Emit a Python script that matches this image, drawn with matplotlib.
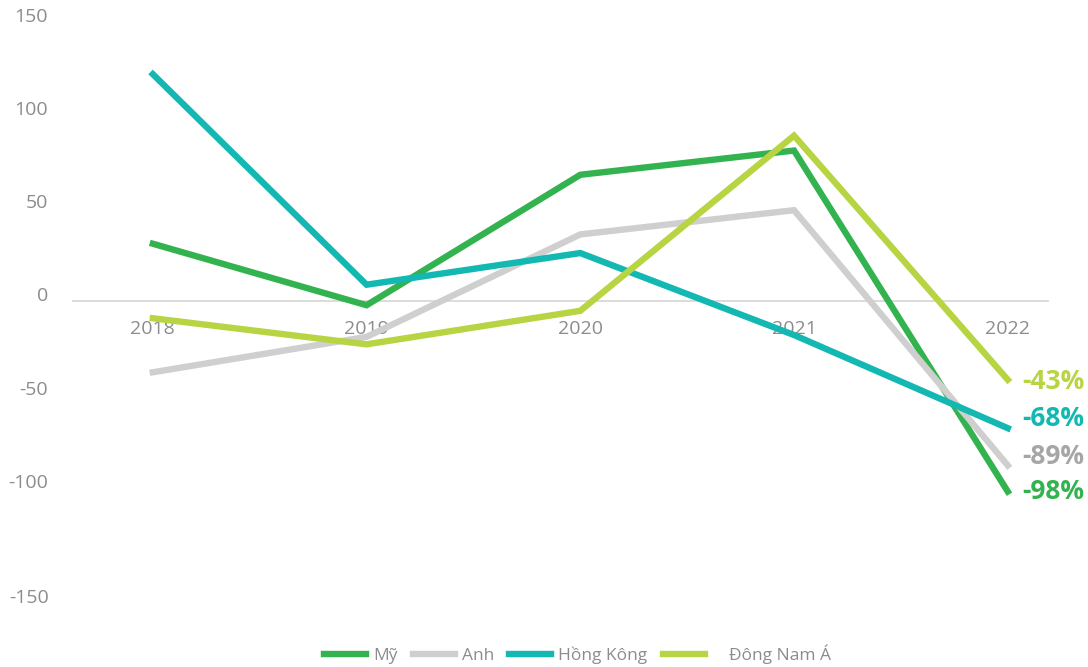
import matplotlib.pyplot as plt

years = [2018, 2019, 2020, 2021, 2022]
series_names = ["Mỹ", "Anh", "Hồng Kông", "Đông Nam Á"]
my = [31, -2, 68, 81, -102]
anh = [-38, -19, 36, 49, -88]
hong_kong = [122, 9, 26, -18, -68]
dong_nam_a = [-9, -23, -5, 89, -42]
end_labels = ["-98%", "-89%", "-68%", "-43%"]
end_label_y = [-102, -83, -63, -43]
y_ticks = [150, 100, 50, 0, -50, -100, -150]

colors = ["#33b34f", "#cfcfcf", "#12b8b1", "#b7d442"]
label_colors = ["#33b34f", "#a6a6a6", "#12b8b1", "#b7d442"]
grey = "#8c8c8c"

plt.rcParams['font.family'] = ['Open Sans', 'DejaVu Sans']

fig = plt.figure(figsize=(10.88, 6.67), dpi=100)
ax = fig.add_axes([0.067, 0.129, 0.896, 0.838])

all_series = [my, anh, hong_kong, dong_nam_a]
# extra gap before the last legend entry, as in the original
legend_names = [n if n != "Đông Nam Á" else "    " + n for n in series_names]
for vals, name, c in zip(all_series, legend_names, colors):
    ax.plot(years, vals, color=c, lw=4.6, label=name, solid_joinstyle='miter')

for txt, yv, c in zip(end_labels, end_label_y, label_colors):
    ax.text(2022.07, yv, txt, color=c, fontsize=19, fontweight='bold',
            va='center', ha='left')

ax.set_xlim(2017.626, 2022.187)
ax.set_ylim(-150, 150)
ax.set_yticks(y_ticks)
# the lowest label sits lower than its gridline in the original
ax.set_yticklabels([str(v) if v != -150 else "" for v in y_ticks])
ax.annotate("-150", xy=(0, -150), xycoords=('axes fraction', 'data'),
            xytext=(-24, -22), textcoords='offset pixels',
            ha='right', va='baseline', fontsize=14, color=grey)
ax.set_xticks(years)
ax.set_xticklabels([str(y) for y in years])

for s in ['top', 'right', 'left']:
    ax.spines[s].set_visible(False)
ax.spines['bottom'].set_position(('data', 0))
ax.spines['bottom'].set_color('#d9d9d9')
ax.spines['bottom'].set_linewidth(1.3)
ax.spines['bottom'].set_zorder(0)
ax.tick_params(axis='x', length=0, pad=13, labelsize=14, labelcolor=grey)
ax.tick_params(axis='y', length=0, pad=18, labelsize=14, labelcolor=grey)
for lab in ax.get_yticklabels():
    lab.set_va('baseline')

ax.legend(loc='upper center', bbox_to_anchor=(0.518, -0.085), ncol=4,
          frameon=False, fontsize=12.5, labelcolor=grey, handlelength=2.4,
          columnspacing=0.9, handletextpad=0.4)

fig.savefig("out.png", dpi=100)
